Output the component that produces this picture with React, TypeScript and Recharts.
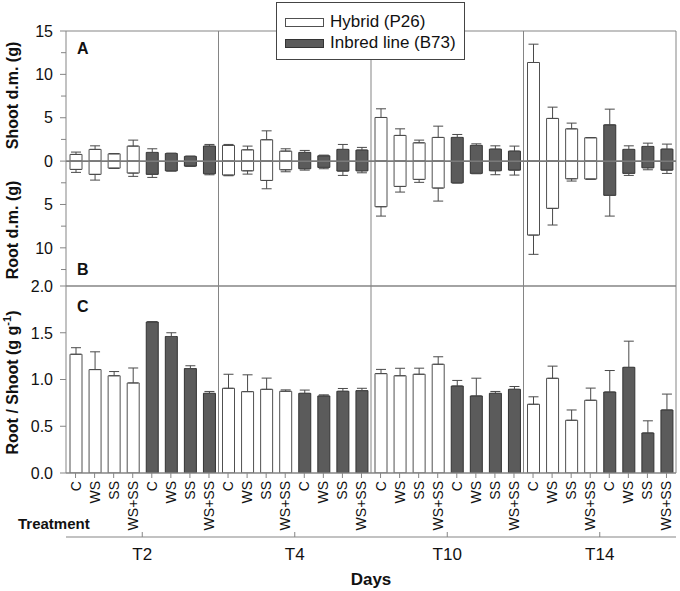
import React from 'react';
import {
  ComposedChart,
  Bar,
  XAxis,
  YAxis,
  ErrorBar,
  Cell,
  ReferenceLine,
  Legend,
} from 'recharts';

// ---------- data ----------
const days = ['T2', 'T4', 'T10', 'T14'];
const treatments = ['C', 'WS', 'SS', 'WS+SS'];
const genotypes = ['Hybrid (P26)', 'Inbred line (B73)'];

// order: per day -> hybrid C, WS, SS, WS+SS, inbred C, WS, SS, WS+SS
const shootDM = [
  0.77, 1.35, 0.84, 1.73, 1.0, 0.88, 0.54, 1.73,
  1.81, 1.3, 2.46, 1.15, 1.0, 0.61, 1.35, 1.27,
  5.03, 2.96, 2.11, 2.73, 2.73, 1.81, 1.38, 1.15,
  11.37, 4.92, 3.72, 2.69, 4.18, 1.35, 1.69, 1.38,
];
const shootSE = [
  0.27, 0.41, 0.03, 0.69, 0.42, 0.04, 0.04, 0.19,
  0.11, 0.43, 1.03, 0.27, 0.23, 0.08, 0.57, 0.31,
  1.0, 0.76, 0.31, 1.3, 0.34, 0.18, 0.38, 0.58,
  2.11, 1.3, 0.66, 0.03, 1.81, 0.41, 0.38, 0.58,
];
const rootDM = [
  0.96, 1.53, 0.81, 1.38, 1.53, 1.12, 0.58, 1.46,
  1.61, 1.12, 2.23, 1.0, 0.88, 0.73, 1.15, 1.12,
  5.26, 2.92, 2.11, 3.11, 2.5, 1.42, 1.11, 1.04,
  8.53, 5.45, 2.04, 2.07, 3.95, 1.42, 0.77, 1.04,
];
const rootSE = [
  0.34, 0.66, 0.04, 0.38, 0.35, 0.03, 0.04, 0.12,
  0.08, 0.38, 0.96, 0.23, 0.16, 0.15, 0.5, 0.23,
  1.08, 0.65, 0.34, 1.5, 0.03, 0.04, 0.46, 0.57,
  2.22, 1.92, 0.26, 0.03, 2.39, 0.23, 0.23, 0.38,
];
const rootShoot = [
  1.27, 1.106, 1.04, 0.963, 1.615, 1.46, 1.117, 0.852,
  0.906, 0.87, 0.895, 0.874, 0.852, 0.824, 0.874, 0.881,
  1.063, 1.04, 1.056, 1.163, 0.93, 0.824, 0.852, 0.895,
  0.735, 1.013, 0.564, 0.778, 0.866, 1.13, 0.428, 0.674,
];
const rootShootSE = [
  0.07, 0.19, 0.045, 0.16, 0.005, 0.04, 0.03, 0.02,
  0.15, 0.18, 0.12, 0.015, 0.035, 0.012, 0.03, 0.025,
  0.045, 0.08, 0.065, 0.08, 0.06, 0.19, 0.02, 0.03,
  0.08, 0.13, 0.11, 0.13, 0.23, 0.28, 0.13, 0.17,
];

const dmTicks = [-12.5, -10, -7.5, -5, -2.5, 0, 2.5, 5, 7.5, 10, 12.5, 15];
const dmDomain = [-14.4, 15];
const ratioTicks = [0, 0.5, 1, 1.5, 2];
const ratioDomain = [0, 2];

// ---------- styling ----------
const FONT = "'Liberation Sans', Arial, Helvetica, sans-serif";
const AXIS = '#858585';
const TEXT = '#111';
const FILLS = ['#ffffff', '#5b5b5b'];
const STROKES = ['#505050', '#333333'];
const ERR = '#4a4a4a';

const rows = days.flatMap((d, di) =>
  genotypes.flatMap((g, gi) =>
    treatments.map((t, ti) => {
      const i = di * 8 + gi * 4 + ti;
      return {
        id: `${d}-${gi}-${t}`,
        day: d,
        trt: t,
        geno: gi,
        shoot: shootDM[i],
        shootErr: [0, shootSE[i]],
        root: -rootDM[i],
        rootErr: [rootSE[i], 0],
        ratio: rootShoot[i],
        ratioErr: [0, rootShootSE[i]],
      };
    })
  )
);
const trtById: Record<string, string> = {};
rows.forEach((r) => {
  trtById[r.id] = r.trt;
});

// ---------- ticks ----------
const DmTick = (p: any) => {
  const v = p.payload.value;
  const major = Math.abs(v % 5) < 1e-9;
  return (
    <g>
      <line x1={p.x} x2={p.x - (major ? 6 : 5)} y1={p.y} y2={p.y} stroke={AXIS} />
      {major && (
        <text x={p.x - 13} y={p.y} dy="0.36em" textAnchor="end" fontSize={16} fill={TEXT} fontFamily={FONT}>
          {Math.abs(v)}
        </text>
      )}
    </g>
  );
};

const RatioTick = (p: any) => {
  const v = p.payload.value;
  return (
    <g>
      <line x1={p.x} x2={p.x - 6} y1={p.y} y2={p.y} stroke={AXIS} />
      <text x={p.x - 13} y={p.y} dy="0.36em" textAnchor="end" fontSize={16} fill={TEXT} fontFamily={FONT}>
        {Number(v).toFixed(1)}
      </text>
    </g>
  );
};

const TrtTick = (p: any) => {
  const label = trtById[p.payload.value] ?? '';
  const x = p.x + 5;
  const y = p.y - 1;
  return (
    <text
      x={x}
      y={y}
      transform={`rotate(-90, ${x}, ${y})`}
      textAnchor="end"
      fontSize={14}
      fill={TEXT}
      fontFamily={FONT}
    >
      {label}
    </text>
  );
};

const DayTick = (p: any) => (
  <g>
    <line x1={p.x} x2={p.x} y1={p.y} y2={p.y - 5} stroke={AXIS} />
    <text x={p.x} y={p.y + 23} textAnchor="middle" fontSize={17} fill={TEXT} fontFamily={FONT}>
      {p.payload.value}
    </text>
  </g>
);

const LegendBox = () => (
  <div
    style={{
      position: 'relative',
      width: 187,
      height: 56,
      border: '1px solid #444',
      background: '#fff',
      fontFamily: FONT,
      fontSize: 17,
      color: TEXT,
    }}
  >
    {genotypes.map((g, i) => (
      <div key={g} style={{ position: 'absolute', left: 0, top: 8 + i * 21, height: 22, width: 187 }}>
        <div
          style={{
            position: 'absolute',
            left: 8,
            top: 7,
            width: 37,
            height: 7,
            background: FILLS[i],
            border: `1px solid ${STROKES[i]}`,
          }}
        />
        <span style={{ position: 'absolute', left: 53, top: 0, lineHeight: '22px', whiteSpace: 'nowrap' }}>{g}</span>
      </div>
    ))}
  </div>
);

const rotatedTitle = (x: number, y: number, content: React.ReactNode, key: string) => (
  <text
    key={key}
    x={x}
    y={y}
    transform={`rotate(-90, ${x}, ${y})`}
    textAnchor="middle"
    fontSize={16}
    fontWeight="bold"
    fill={TEXT}
    fontFamily={FONT}
  >
    {content}
  </text>
);

// panel frame (top, bottom and right edges) + day separators
const frameLines = (axisId: string, domain: number[]) => [
  <ReferenceLine key="top" xAxisId={axisId} y={domain[1]} stroke={AXIS} />,
  <ReferenceLine key="bottom" xAxisId={axisId} y={domain[0]} stroke={AXIS} />,
  <ReferenceLine key="right" xAxisId={axisId} x={days[days.length - 1]} position="end" stroke={AXIS} />,
  ...days.slice(1).map((d) => (
    <ReferenceLine key={d} xAxisId={axisId} x={d} position="start" stroke={AXIS} />
  )),
];

export default function App() {
  return (
    <div
      style={{
        position: 'absolute',
        left: 0,
        top: 0,
        width: 680,
        height: 591,
        background: '#fff',
        fontFamily: FONT,
      }}
    >
      {/* Panels A / B */}
      <div style={{ position: 'absolute', left: 0, top: 0 }}>
        <ComposedChart width={680} height={287} data={rows} margin={{ top: 31, right: 4, bottom: 1, left: 0 }}>
          <XAxis xAxisId="s" dataKey="id" type="category" hide />
          <XAxis xAxisId="r" dataKey="id" type="category" hide />
          <XAxis xAxisId="d" dataKey="day" type="category" allowDuplicatedCategory={false} hide />
          <YAxis
            width={66}
            type="number"
            domain={dmDomain}
            allowDataOverflow
            ticks={dmTicks}
            interval={0}
            axisLine={{ stroke: AXIS }}
            tickLine={false}
            tickSize={0}
            tickMargin={0}
            tick={DmTick}
          />
          {frameLines('d', dmDomain)}
          <Bar xAxisId="s" dataKey="shoot" barSize={12} isAnimationActive={false}>
            {rows.map((r) => (
              <Cell key={r.id} fill={FILLS[r.geno]} stroke={STROKES[r.geno]} strokeWidth={1} />
            ))}
            <ErrorBar dataKey="shootErr" width={5} stroke={ERR} strokeWidth={1} direction="y" isAnimationActive={false} />
          </Bar>
          <Bar xAxisId="r" dataKey="root" barSize={12} isAnimationActive={false}>
            {rows.map((r) => (
              <Cell key={r.id} fill={FILLS[r.geno]} stroke={STROKES[r.geno]} strokeWidth={1} />
            ))}
            <ErrorBar dataKey="rootErr" width={5} stroke={ERR} strokeWidth={1} direction="y" isAnimationActive={false} />
          </Bar>
          <ReferenceLine xAxisId="s" y={0} stroke="#7a7a7a" strokeWidth={1.6} />
          <Legend
            layout="horizontal"
            verticalAlign="middle"
            align="center"
            content={LegendBox}
            wrapperStyle={{ left: 276, top: 2, width: 189, height: 58, bottom: 'auto', right: 'auto' }}
          />
          <text x={77} y={53.5} fontSize={16} fontWeight="bold" fill={TEXT} fontFamily={FONT}>A</text>
          <text x={77} y={275} fontSize={16} fontWeight="bold" fill={TEXT} fontFamily={FONT}>B</text>
          {rotatedTitle(18, 95.5, 'Shoot d.m. (g)', 'shootTitle')}
          {rotatedTitle(18, 230, 'Root d.m. (g)', 'rootTitle')}
        </ComposedChart>
      </div>

      {/* Panel C */}
      <div style={{ position: 'absolute', left: 0, top: 0 }}>
        <ComposedChart width={680} height={591} data={rows} margin={{ top: 286, right: 4, bottom: 0, left: 0 }}>
          <XAxis
            xAxisId="c"
            dataKey="id"
            type="category"
            interval={0}
            height={64}
            axisLine={{ stroke: AXIS }}
            tickLine={{ stroke: AXIS }}
            tickSize={5}
            tickMargin={4}
            tick={TrtTick}
          />
          <XAxis
            xAxisId="d"
            dataKey="day"
            type="category"
            allowDuplicatedCategory={false}
            interval={0}
            height={54}
            axisLine={{ stroke: AXIS }}
            tickLine={false}
            tickSize={0}
            tickMargin={0}
            tick={DayTick}
          />
          <YAxis
            width={66}
            type="number"
            domain={ratioDomain}
            allowDataOverflow
            ticks={ratioTicks}
            interval={0}
            axisLine={{ stroke: AXIS }}
            tickLine={false}
            tickSize={0}
            tickMargin={0}
            tick={RatioTick}
          />
          {frameLines('d', ratioDomain)}
          <Bar xAxisId="c" dataKey="ratio" barSize={12} isAnimationActive={false}>
            {rows.map((r) => (
              <Cell key={r.id} fill={FILLS[r.geno]} stroke={STROKES[r.geno]} strokeWidth={1} />
            ))}
            <ErrorBar dataKey="ratioErr" width={5} stroke={ERR} strokeWidth={1} direction="y" isAnimationActive={false} />
          </Bar>
          <text x={77} y={311.5} fontSize={16} fontWeight="bold" fill={TEXT} fontFamily={FONT}>C</text>
          {rotatedTitle(
            18,
            382.5,
            <>
              Root / Shoot (g g
              <tspan fontSize={11} dy={-7}>-1</tspan>
              <tspan dy={7}>)</tspan>
            </>,
            'ratioTitle'
          )}
          <text x={18} y={529} fontSize={15} fontWeight="bold" fill={TEXT} fontFamily={FONT}>Treatment</text>
          <text x={371} y={585} textAnchor="middle" fontSize={17} fontWeight="bold" fill={TEXT} fontFamily={FONT}>Days</text>
        </ComposedChart>
      </div>
    </div>
  );
}
